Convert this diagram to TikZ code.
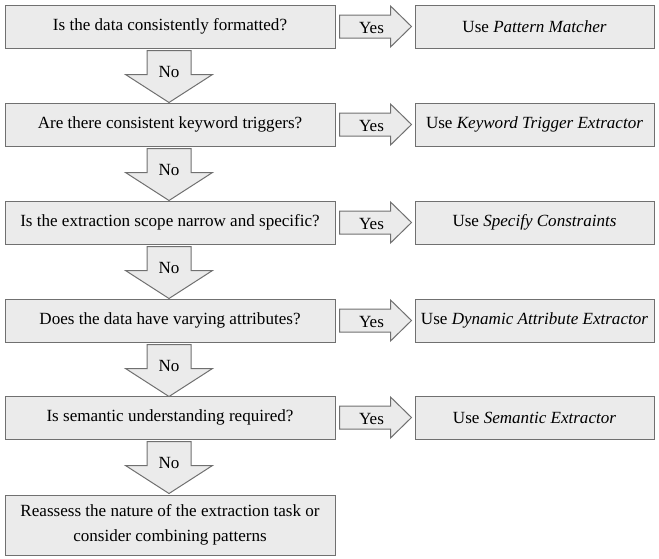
\documentclass[tikz,border=0pt]{standalone}
\usepackage{fontspec}
\setmainfont{Liberation Serif}
\usepackage{tikz}
\usetikzlibrary{calc}
\usepackage{xcolor}

\definecolor{boxfill}{RGB}{235,235,235}
\definecolor{boxline}{RGB}{112,112,112}

\tikzset{
  askbox/.style={draw=boxline, fill=boxfill, line width=0.75pt, minimum width=330*0.75pt, minimum height=43*0.75pt, inner sep=0pt, align=center, font=\fontsize{12.8}{19}\selectfont},
  usebox/.style={askbox, minimum width=239*0.75pt},
  endbox/.style={askbox, minimum height=60*0.75pt},
  arrowbox/.style={draw=boxline, fill=boxfill, line width=0.75pt, line join=miter},
  arrowtext/.style={inner sep=0pt, font=\fontsize{12.8}{15}\selectfont}
}

\begin{document}
\begin{tikzpicture}[x=0.75pt,y=0.75pt,yscale=-1,xscale=1]
\useasboundingbox (0,0) rectangle (659,558);

% Question boxes
\node[askbox] (q1) at (170,26.5) {Is the data consistently formatted?};
\node[askbox] (q2) at (170,124.5) {Are there consistent keyword triggers?};
\node[askbox] (q3) at (170,222.5) {Is the extraction scope narrow and specific?};
\node[askbox] (q4) at (170,320.5) {Does the data have varying attributes?};
\node[askbox] (q5) at (170,417.5) {Is semantic understanding required?};
\node[endbox] (q6) at (170,525) {Reassess the nature of the extraction task or\\consider combining patterns};

% Answer boxes
\node[usebox] (u1) at (534.5,26.5) {Use \textit{Pattern Matcher}};
\node[usebox] (u2) at (534.5,124.5) {Use \textit{Keyword Trigger Extractor}};
\node[usebox] (u3) at (534.5,222.5) {Use \textit{Specify Constraints}};
\node[usebox] (u4) at (534.5,320.5) {Use \textit{Dynamic Attribute Extractor}};
\node[usebox] (u5) at (534.5,417.5) {Use \textit{Semantic Extractor}};

% Yes arrows
\draw[arrowbox] ($(q1.east)+(4,-11.5)$) -- ++(51,0) -- ++(0,-9) -- ++(21,20.5) -- ++(-21,20.5) -- ++(0,-9) -- ++(-51,0) -- cycle;
\draw[arrowbox] ($(q2.east)+(4,-11.5)$) -- ++(51,0) -- ++(0,-9) -- ++(21,20.5) -- ++(-21,20.5) -- ++(0,-9) -- ++(-51,0) -- cycle;
\draw[arrowbox] ($(q3.east)+(4,-11.5)$) -- ++(51,0) -- ++(0,-9) -- ++(21,20.5) -- ++(-21,20.5) -- ++(0,-9) -- ++(-51,0) -- cycle;
\draw[arrowbox] ($(q4.east)+(4,-11.5)$) -- ++(51,0) -- ++(0,-9) -- ++(21,20.5) -- ++(-21,20.5) -- ++(0,-9) -- ++(-51,0) -- cycle;
\draw[arrowbox] ($(q5.east)+(4,-11.5)$) -- ++(51,0) -- ++(0,-9) -- ++(21,20.5) -- ++(-21,20.5) -- ++(0,-9) -- ++(-51,0) -- cycle;

% No arrows
\draw[arrowbox] ($(q1.south)+(-23,2)$) -- ++(0,24) -- ++(-21.5,0) -- ++(43.5,28) -- ++(43.5,-28) -- ++(-21.5,0) -- ++(0,-24) -- cycle;
\draw[arrowbox] ($(q2.south)+(-23,2)$) -- ++(0,24) -- ++(-21.5,0) -- ++(43.5,28) -- ++(43.5,-28) -- ++(-21.5,0) -- ++(0,-24) -- cycle;
\draw[arrowbox] ($(q3.south)+(-23,2)$) -- ++(0,24) -- ++(-21.5,0) -- ++(43.5,28) -- ++(43.5,-28) -- ++(-21.5,0) -- ++(0,-24) -- cycle;
\draw[arrowbox] ($(q4.south)+(-23,2)$) -- ++(0,24) -- ++(-21.5,0) -- ++(43.5,28) -- ++(43.5,-28) -- ++(-21.5,0) -- ++(0,-24) -- cycle;
\draw[arrowbox] ($(q5.south)+(-23,2)$) -- ++(0,24) -- ++(-21.5,0) -- ++(43.5,28) -- ++(43.5,-28) -- ++(-21.5,0) -- ++(0,-24) -- cycle;

% Arrow labels
\node[arrowtext] (y1) at ($(q1.east)+(36,1.5)$) {Yes};
\node[arrowtext] (y2) at ($(q2.east)+(36,1.5)$) {Yes};
\node[arrowtext] (y3) at ($(q3.east)+(36,1.5)$) {Yes};
\node[arrowtext] (y4) at ($(q4.east)+(36,1.5)$) {Yes};
\node[arrowtext] (y5) at ($(q5.east)+(36,1.5)$) {Yes};
\node[arrowtext] (n1) at ($(q1.south)+(-1,23)$) {No};
\node[arrowtext] (n2) at ($(q2.south)+(-1,23)$) {No};
\node[arrowtext] (n3) at ($(q3.south)+(-1,23)$) {No};
\node[arrowtext] (n4) at ($(q4.south)+(-1,23)$) {No};
\node[arrowtext] (n5) at ($(q5.south)+(-1,23)$) {No};

\end{tikzpicture}
\end{document}
